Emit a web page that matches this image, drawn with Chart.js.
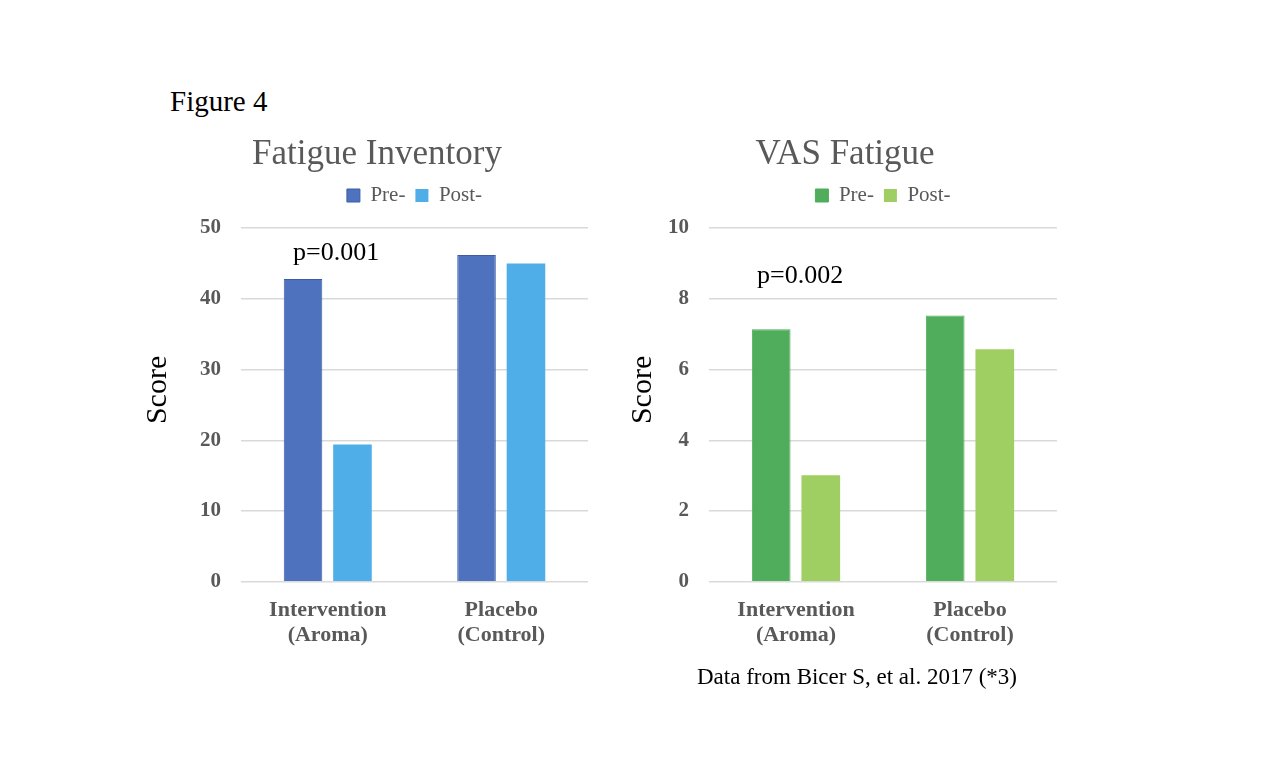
<!DOCTYPE html>
<html>
<head>
<meta charset="utf-8">
<script src="https://cdn.jsdelivr.net/npm/chart.js@4.4.1/dist/chart.umd.min.js"></script>
<style>
  body { margin: 0; background: #fff; width: 1280px; height: 768px; position: relative; overflow: hidden; font-family: "Liberation Serif", "Times New Roman", serif; }
  .box { position: absolute; }
  .txt { position: absolute; white-space: nowrap; color: #000; line-height: 1.15; }
</style>
</head>
<body>
<div class="txt" style="left:170px; top:85px; font-size:29px;">Figure 4</div>

<div class="box" style="left:130px; top:128px; width:494px; height:535px;"><canvas id="fatigueChart"></canvas></div>
<div class="box" style="left:600px; top:128px; width:490px; height:535px;"><canvas id="vasChart"></canvas></div>

<div class="txt" style="left:293px; top:237px; font-size:26px;">p=0.001</div>
<div class="txt" style="left:757px; top:260px; font-size:26px;">p=0.002</div>
<div class="txt" style="left:697px; top:664px; font-size:23px;">Data from Bicer S, et al. 2017 (*3)</div>

<script>
// -------- DATA --------
const groups = [["Intervention", "(Aroma)"], ["Placebo", "(Control)"]];
const seriesNames = ["Pre-", "Post-"];

const fatiguePre = [42.8, 46.2];
const fatiguePost = [19.4, 45.0];
const fatigueTicks = [0, 10, 20, 30, 40, 50];

const vasPre = [7.14, 7.53];
const vasPost = [3.01, 6.57];
const vasTicks = [0, 2, 4, 6, 8, 10];

const serif = "'Liberation Serif', 'Times New Roman', serif";
const grey = "#595959";

// extra room under the legend, like the original
const legendGap = {
  id: "legendGap",
  beforeInit(chart) {
    const fit = chart.legend.fit;
    chart.legend.fit = function () {
      fit.bind(chart.legend)();
      this.height += 12;
    };
  }
};

// -------- BUILD ONE PANEL --------
function makeChart(id, title, pre, post, ticks, colors, pad) {
  const ctx = document.getElementById(id).getContext("2d");
  const yMax = ticks[ticks.length - 1];
  const step = ticks[1] - ticks[0];

  return new Chart(ctx, {
    type: "bar",
    data: {
      labels: groups,
      datasets: [
        {
          label: seriesNames[0],
          data: pre,
          backgroundColor: colors[0],
          borderColor: colors[2],
          borderWidth: 1
        },
        {
          label: seriesNames[1],
          data: post,
          backgroundColor: colors[1],
          borderWidth: 0
        }
      ]
    },
    options: {
      responsive: true,
      maintainAspectRatio: false,
      animation: false,
      layout: { padding: { left: pad.left, right: pad.right, top: 0, bottom: 7 } },
      datasets: {
        bar: { categoryPercentage: 0.57, barPercentage: 0.78 }
      },
      plugins: {
        title: {
          display: true,
          text: title,
          color: grey,
          font: { family: serif, size: 35, weight: "normal" },
          padding: { top: 6, bottom: -1 }
        },
        legend: {
          display: true,
          fullSize: false,
          labels: {
            color: grey,
            font: { family: serif, size: 21 },
            boxWidth: 13,
            boxHeight: 13,
            padding: 10
          }
        },
        tooltip: { enabled: false }
      },
      scales: {
        x: {
          grid: { display: false },
          border: { display: false },
          ticks: {
            color: grey,
            font: { family: serif, size: 22, weight: "bold", lineHeight: 1.14 },
            padding: 8
          }
        },
        y: {
          min: 0,
          max: yMax,
          border: { display: false },
          grid: { color: "#d9d9d9", lineWidth: 1.5, drawTicks: false },
          ticks: {
            stepSize: step,
            color: grey,
            padding: 20,
            font: { family: serif, size: 21, weight: "bold" }
          },
          title: {
            display: true,
            // leading spaces lift the word a little above the middle, as in the original
            text: "    Score",
            color: "#000",
            font: { family: serif, size: 30 },
            padding: { top: 0, bottom: 0 }
          },
          afterFit(scale) { scale.width = pad.axis; }
        },
        // empty axis on the right so the title sits where it did in the original
        yRight: {
          position: "right",
          display: true,
          grid: { display: false },
          border: { display: false },
          ticks: { display: false },
          afterFit(scale) { scale.width = pad.spare; }
        }
      }
    },
    plugins: [legendGap]
  });
}

makeChart("fatigueChart", "Fatigue Inventory", fatiguePre, fatiguePost, fatigueTicks,
  ["#4F72BE", "#4FADE8", "#3A5DA8"], { left: 10, right: 10, axis: 101, spare: 26 });
makeChart("vasChart", "VAS Fatigue", vasPre, vasPost, vasTicks,
  ["#4FAD5B", "#9FCE62", "#4FAD5B"], { left: 25, right: 25, axis: 84, spare: 8 });
</script>
</body>
</html>
